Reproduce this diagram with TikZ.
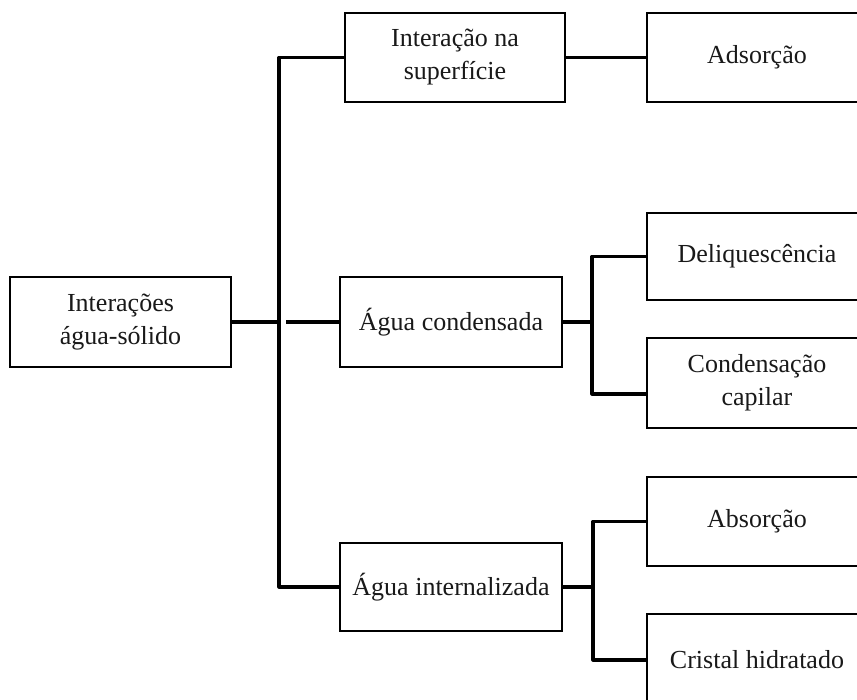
\documentclass[tikz,border=0pt]{standalone}
\usepackage{fontspec}
\setmainfont{Liberation Serif}
\begin{document}
\begin{tikzpicture}[x=1pt,y=-1pt,
  box/.style={draw=black,line width=2pt,inner sep=0pt,align=center,
    font=\fontsize{26}{33}\selectfont,text=black!90},
  conn/.style={draw=black,line width=3.2pt,line join=round}]
\clip (0,0) rectangle (857,700);
\fill[white] (0,0) rectangle (857,700);
% first level
\node[box,minimum width=221pt,minimum height=90pt] (root) at (120.5,322) {Interações\\água-sólido};
% second level
\node[box,minimum width=220pt,minimum height=89pt] (b1) at (455,57.5) {Interação na\\superfície};
\node[box,minimum width=222pt,minimum height=90pt] (b2) at (451,322) {Água condensada};
\node[box,minimum width=222pt,minimum height=88pt] (b3) at (451,587) {Água internalizada};
% third level
\node[box,minimum width=220pt,minimum height=89pt] (c1) at (757,57.5) {Adsorção};
\node[box,minimum width=220pt,minimum height=87pt] (c2) at (757,256.5) {Deliquescência};
\node[box,minimum width=220pt,minimum height=90pt] (c3) at (757,383) {Condensação\\capilar};
\node[box,minimum width=220pt,minimum height=89pt] (c4) at (757,521.5) {Absorção};
\node[box,minimum width=220pt,minimum height=92pt] (c5) at (757,660) {Cristal hidratado};
% junctions
\coordinate (bar) at (279,322);
\coordinate (gap) at (286,322);
\coordinate (j2) at (592,322);
\coordinate (c3in) at (647,394);
\coordinate (j3) at (593,587);
% connectors
\draw[conn] (root.east) -- (bar);
\draw[conn] (b1.west) -| (bar) |- (b3.west);
\draw[conn] (gap) -- (b2.west);
\draw[conn] (b1.east) -- (c1.west);
\draw[conn] (b2.east) -- (j2);
\draw[conn] (c2.west) -| (j2) |- (c3in);
\draw[conn] (b3.east) -- (j3);
\draw[conn] (c4.west) -| (j3) |- (c5.west);
\end{tikzpicture}
\end{document}
